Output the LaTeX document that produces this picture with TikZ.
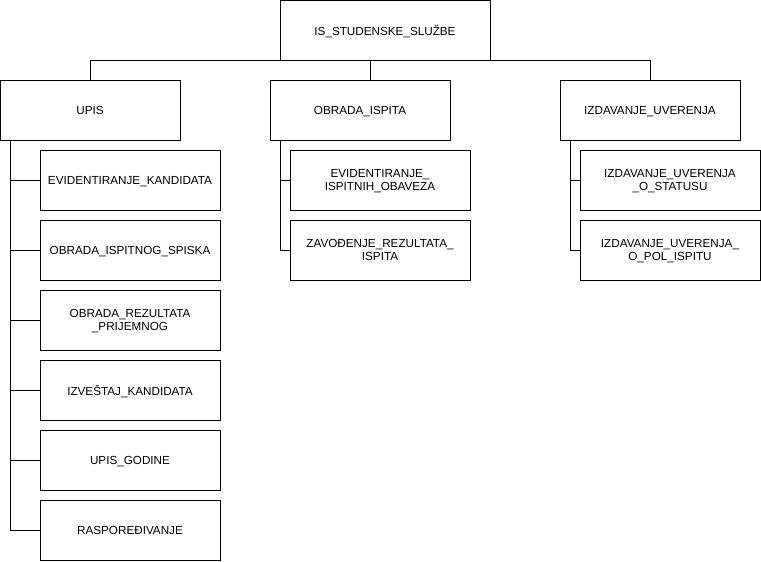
\documentclass[tikz,border=0pt]{standalone}
\usepackage{fontspec}
\setmainfont{Liberation Sans}
\begin{document}
\begin{tikzpicture}[x=1pt,y=-1pt,
  box/.style={draw=black,line width=1pt,fill=white,minimum width=180pt,minimum height=60pt,
    inner sep=0pt,outer sep=0pt,align=center,text depth=0pt,
    font=\fontsize{11.7}{13.5}\selectfont},
  wide/.style={box,minimum width=210pt},
  link/.style={draw=black,line width=1pt}]
\useasboundingbox (0,0) rectangle (761,562);

% top level
\node[wide] (root) at (385,30) {IS\_STUDENSKE\_SLUŽBE};

% second level
\node[box] (upis) at (90,110) {UPIS};
\node[box] (obr) at (360,110) {OBRADA\_ISPITA};
\node[box] (izd) at (650,110) {IZDAVANJE\_UVERENJA};

% children of UPIS
\node[box] (u1) at (130,180) {EVIDENTIRANJE\_KANDIDATA};
\node[box] (u2) at (130,250) {OBRADA\_ISPITNOG\_SPISKA};
\node[box] (u3) at (130,320) {OBRADA\_REZULTATA\\\_PRIJEMNOG};
\node[box] (u4) at (130,390) {IZVEŠTAJ\_KANDIDATA};
\node[box] (u5) at (130,460) {UPIS\_GODINE};
\node[box] (u6) at (130,530) {RASPOREĐIVANJE};

% children of OBRADA_ISPITA
\node[box] (o1) at (380,180) {EVIDENTIRANJE\_\\ISPITNIH\_OBAVEZA};
\node[box] (o2) at (380,250) {ZAVOĐENJE\_REZULTATA\_\\ISPITA};

% children of IZDAVANJE_UVERENJA
\node[box] (i1) at (670,180) {IZDAVANJE\_UVERENJA\\\_O\_STATUSU};
\node[box] (i2) at (670,250) {IZDAVANJE\_UVERENJA\_\\O\_POL\_ISPITU};

% bus from the root to the second level
\draw[link] (upis.north) -- (upis.north |- root.south) -- (izd.north |- root.south) -- (izd.north);
\draw[link] ([xshift=10pt]obr.north) -- ([xshift=10pt]obr.north |- root.south);

% branches to the leaves
\foreach \c in {u1,u2,u3,u4,u5,u6}
  \draw[link] ([xshift=10pt]upis.south west) |- (\c.west);
\foreach \c in {o1,o2}
  \draw[link] ([xshift=10pt]obr.south west) |- (\c.west);
\foreach \c in {i1,i2}
  \draw[link] ([xshift=10pt]izd.south west) |- (\c.west);
\end{tikzpicture}
\end{document}
